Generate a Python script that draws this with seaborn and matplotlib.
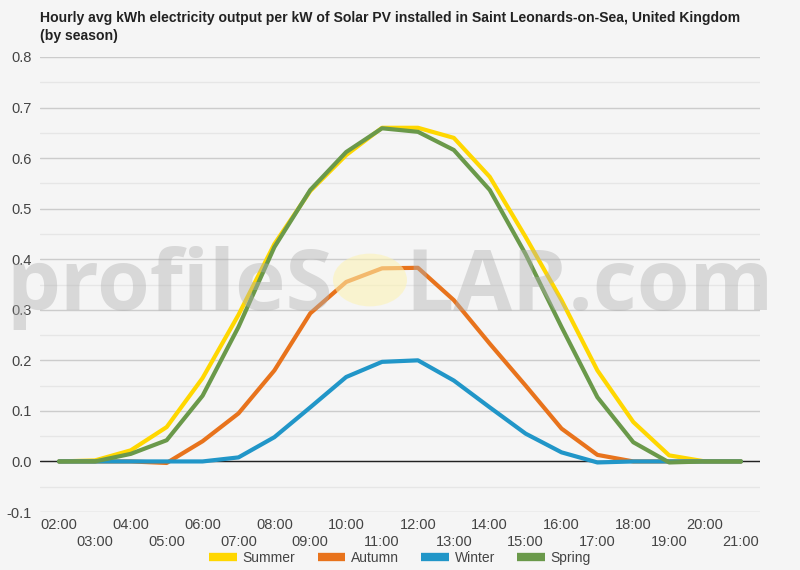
import numpy as np
import pandas as pd
import matplotlib
matplotlib.use('Agg')
import matplotlib.pyplot as plt
import seaborn as sns
from matplotlib.patches import Circle

hours = list(range(2, 22))
hour_labels = [f'{h:02d}:00' for h in hours]

summer = [0.0, 0.002, 0.022, 0.068, 0.165, 0.29, 0.43, 0.535, 0.606, 0.66,
          0.66, 0.64, 0.563, 0.444, 0.319, 0.18, 0.078, 0.012, 0.0, 0.0]
autumn = [0.0, 0.0, 0.0, -0.003, 0.04, 0.095, 0.18, 0.293, 0.355, 0.382,
          0.383, 0.319, 0.233, 0.15, 0.065, 0.013, 0.0, 0.0, 0.0, 0.0]
winter = [0.0, 0.0, 0.0, 0.0, 0.0, 0.008, 0.048, 0.107, 0.167, 0.197,
          0.2, 0.16, 0.107, 0.055, 0.018, -0.002, 0.0, 0.0, 0.0, 0.0]
spring = [0.0, 0.0, 0.015, 0.042, 0.13, 0.266, 0.424, 0.537, 0.612, 0.659,
          0.652, 0.616, 0.537, 0.41, 0.266, 0.127, 0.038, -0.002, 0.0, 0.0]

seasons = ['Summer', 'Autumn', 'Winter', 'Spring']
colors = ['#FFD700', '#E8731C', '#2196C8', '#6A994A']

df = pd.DataFrame({
    'hour': hours * 4,
    'kwh': summer + autumn + winter + spring,
    'season': sum([[s] * len(hours) for s in seasons], []),
})

sns.set_style('white')
plt.rcParams['font.family'] = ['Liberation Sans', 'DejaVu Sans']

bg = '#F5F5F5'
fig = plt.figure(figsize=(8, 5.7), dpi=100, facecolor=bg)
ax = fig.add_axes([40 / 800, 1 - 512 / 570, 720 / 800, 455 / 570])
ax.set_facecolor(bg)

# grid: 0.1 steps darker, 0.05 steps lighter
for v in np.arange(-0.1, 0.81, 0.05):
    major = abs(round(v * 20)) % 2 == 0
    ax.axhline(v, color='#CCCCCC' if major else '#E6E6E6', lw=1, zorder=1)
ax.axhline(0, color='#222222', lw=1, zorder=2)

sns.lineplot(data=df, x='hour', y='kwh', hue='season', hue_order=seasons,
             palette=colors, linewidth=3, ax=ax, zorder=3, legend=True)

# watermark (over the lines, faint)
wm_y = 1 - 310 / 570
fig.text(333 / 800, wm_y, 'profileS', ha='right', va='baseline', fontsize=61.5,
         family='Open Sans', fontweight='bold', color='#B0B0B0', alpha=0.42, zorder=5)
fig.text(405 / 800, wm_y, 'LAR.com', ha='left', va='baseline', fontsize=61.5,
         family='Open Sans', fontweight='bold', color='#B0B0B0', alpha=0.42, zorder=5)
fig.patches.append(Circle((370 / 800, 1 - 280 / 570), 37 / 800, transform=fig.transFigure,
                          facecolor='#FDF3B0', edgecolor='none', alpha=0.55, zorder=5))

ax.set_xlim(1.47, 21.53)
ax.set_ylim(-0.1, 0.8)
yt = np.arange(-0.1, 0.81, 0.1)
ax.set_yticks(yt)
ax.set_yticklabels([f'{v:.1f}' for v in yt])
ax.set_xticks(hours)
ax.set_xticklabels([lab if h % 2 == 0 else '\n' + lab for h, lab in zip(hours, hour_labels)],
                   linespacing=1.3)
ax.tick_params(axis='both', length=0, labelsize=10.5, colors='#444444', pad=6)
ax.tick_params(axis='x', pad=4)
ax.set_xlabel('')
ax.set_ylabel('')
for s in ax.spines.values():
    s.set_visible(False)

fig.text(40 / 800, 1 - 11 / 570,
         'Hourly avg kWh electricity output per kW of Solar PV installed in Saint Leonards-on-Sea, United Kingdom\n(by season)',
         ha='left', va='top', fontsize=10.1, fontweight='bold', color='#222222',
         linespacing=1.4)

ax.legend(loc='center', bbox_to_anchor=(0.5, 1 - 558 / 570), bbox_transform=fig.transFigure,
          ncol=4, frameon=False, fontsize=10, handlelength=2.0, columnspacing=1.6,
          handletextpad=0.4, labelcolor='#444444')
for line in ax.get_legend().get_lines():
    line.set_linewidth(6)
    line.set_solid_capstyle('butt')

fig.savefig('out.png', dpi=100, facecolor=bg)
